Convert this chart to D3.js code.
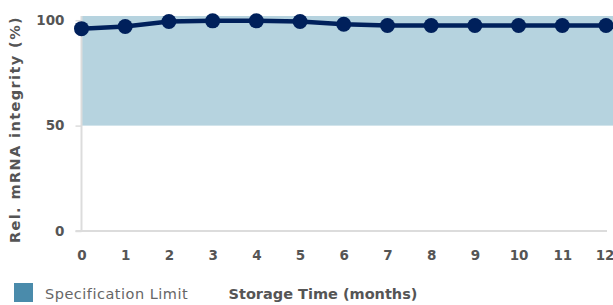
<!DOCTYPE html>
<html>
<head>
<meta charset="utf-8">
<script src="https://cdn.jsdelivr.net/npm/d3@7"></script>
<style>
  body { margin: 0; background: #fff; }
  svg text { font-family: "DejaVu Sans", sans-serif; }
</style>
</head>
<body>
<svg id="chart" width="613" height="305"></svg>
<script>
// months on the x axis and the measured integrity values
const months = [0, 1, 2, 3, 4, 5, 6, 7, 8, 9, 10, 11, 12];
const integrity = [96, 97, 99.4, 99.7, 99.7, 99.4, 98.1, 97.5, 97.5, 97.5, 97.5, 97.5, 97.5];
const yTicks = [0, 50, 100];
const specLimit = [50, 102];

const svg = d3.select('#chart');
const W = 613, H = 305;
const margin = {left: 81.5, right: 7, top: 16, bottom: 74};

let x = d3.scaleLinear().domain([0, 12]).range([margin.left, W - margin.right]);
let y = d3.scaleLinear().domain([0, 102]).range([H - margin.bottom, margin.top]);

// spec limit band, runs out to the right edge
svg.append('rect')
   .attr('x', x(0))
   .attr('y', y(specLimit[1]))
   .attr('width', W - x(0))
   .attr('height', y(specLimit[0]) - y(specLimit[1]))
   .attr('fill', '#b6d3df');

// y axis
let yAxis = svg.append('g')
   .attr('transform', `translate(${x(0)},0)`)
   .call(d3.axisLeft(y).tickValues(yTicks).tickSize(6).tickPadding(11));
yAxis.select('.domain').attr('stroke', '#dcdcdc').attr('stroke-width', 2)
     .attr('d', `M0,${y(specLimit[1])}V${y(0)}`);
yAxis.selectAll('.tick line').attr('stroke', '#dcdcdc').attr('stroke-width', 1.5);
yAxis.selectAll('.tick text').attr('fill', '#555').attr('font-size', 13.5).attr('font-weight', 700);

// x axis
let xAxis = svg.append('g')
   .attr('transform', `translate(0,${y(0)})`)
   .call(d3.axisBottom(x).tickValues(months).tickSize(0).tickPadding(19));
xAxis.select('.domain').attr('stroke', '#dcdcdc').attr('stroke-width', 2)
     .attr('d', `M${x(0) - 6},0H${x(12) + 1}`);
xAxis.selectAll('.tick text').attr('fill', '#555').attr('font-size', 13.5).attr('font-weight', 700);
// last label sits against the right edge
xAxis.selectAll('.tick text').filter(d => d == 12).attr('text-anchor', 'end').attr('dx', 8);

// line + dots
let pts = months.map((m, i) => ({m: m, v: integrity[i]}));
svg.append('path')
   .datum(pts)
   .attr('fill', 'none')
   .attr('stroke', '#00205b')
   .attr('stroke-width', 4.5)
   .attr('d', d3.line().x(d => x(d.m)).y(d => y(d.v)));
svg.selectAll('circle.pt').data(pts).enter()
   .append('circle')
   .classed('pt', true)
   .attr('cx', d => x(d.m))
   .attr('cy', d => y(d.v))
   .attr('r', 7.5)
   .attr('fill', '#00205b');

// axis titles
svg.append('text')
   .attr('transform', `translate(20,${(y(0) + y(102)) / 2 + 6}) rotate(-90)`)
   .attr('text-anchor', 'middle')
   .attr('fill', '#555')
   .attr('font-size', 14.5)
   .attr('letter-spacing', 1.4)
   .attr('font-weight', 700)
   .text('Rel. mRNA integrity (%)');

svg.append('text')
   .attr('x', 323)
   .attr('y', 299)
   .attr('text-anchor', 'middle')
   .attr('fill', '#555')
   .attr('font-size', 14.5)
   .attr('font-weight', 700)
   .text('Storage Time (months)');

// legend
svg.append('rect')
   .attr('x', 14).attr('y', 283)
   .attr('width', 19).attr('height', 19)
   .attr('fill', '#4a8bab');
svg.append('text')
   .attr('x', 45).attr('y', 299)
   .attr('fill', '#666')
   .attr('font-size', 14.5)
   .attr('letter-spacing', 0.5)
   .text('Specification Limit');
</script>
</body>
</html>
